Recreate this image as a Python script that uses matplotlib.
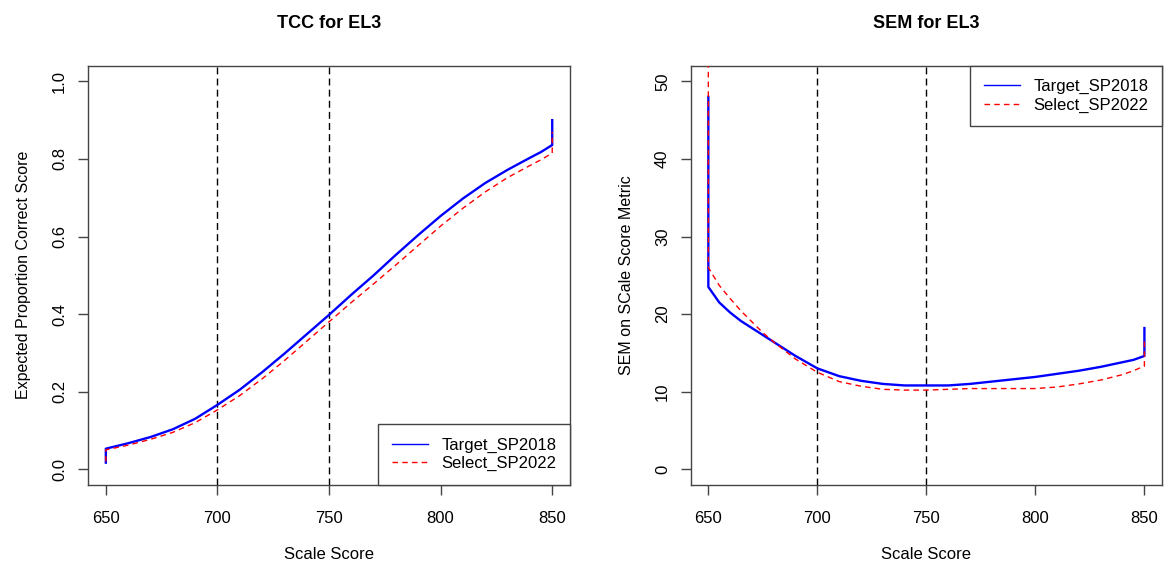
import matplotlib.pyplot as plt

plt.rcParams['font.family'] = ['Liberation Sans', 'DejaVu Sans']

# TCC curves (scale score vs expected proportion correct)
tcc_x = [650, 650, 660, 670, 680, 690, 700, 710, 720, 730, 740, 750, 760,
         770, 780, 790, 800, 810, 820, 830, 840, 845, 850, 850]
tcc_target = [0.017, 0.053, 0.067, 0.083, 0.103, 0.130, 0.166, 0.205, 0.250,
              0.298, 0.348, 0.398, 0.450, 0.500, 0.553, 0.604, 0.653, 0.698,
              0.738, 0.772, 0.803, 0.818, 0.836, 0.900]
tcc_select = [0.020, 0.050, 0.062, 0.077, 0.095, 0.120, 0.153, 0.190, 0.233,
              0.280, 0.330, 0.380, 0.430, 0.478, 0.527, 0.577, 0.627, 0.673,
              0.715, 0.752, 0.783, 0.798, 0.815, 0.870]

# SEM curves
sem_x = [650, 650, 655, 660, 665, 670, 675, 680, 690, 700, 710, 720, 730,
         740, 750, 760, 770, 780, 790, 800, 810, 820, 830, 840, 845, 850, 850]
sem_target = [48.0, 23.5, 21.5, 20.2, 19.1, 18.2, 17.3, 16.4, 14.6, 13.0,
              12.0, 11.4, 11.0, 10.8, 10.8, 10.8, 11.0, 11.3, 11.6, 11.9,
              12.3, 12.7, 13.2, 13.8, 14.1, 14.6, 18.2]
sem_select = [60.0, 26.0, 23.7, 22.0, 20.4, 19.0, 17.6, 16.4, 14.2, 12.5,
              11.3, 10.7, 10.3, 10.2, 10.2, 10.3, 10.4, 10.4, 10.4, 10.4,
              10.6, 11.0, 11.5, 12.2, 12.7, 13.3, 17.0]

cut_scores = [700, 750]
xticks = [650, 700, 750, 800, 850]

fig = plt.figure(figsize=(11.73, 5.63), dpi=100)
ax1 = fig.add_axes([0.075, 0.139, 0.411, 0.744])
ax2 = fig.add_axes([0.589, 0.139, 0.4015, 0.744])

def style(ax, ylim, yticks, ylabels):
    ax.set_xlim(642, 858)
    ax.set_ylim(ylim)
    ax.set_xticks(xticks)
    ax.set_yticks(yticks)
    ax.set_yticklabels(ylabels, rotation=90, va='center')
    ax.tick_params(direction='out', length=7, width=1, labelsize=12,
                   color='#444444', pad=12)
    ax.tick_params(axis='y', pad=8)
    for s in ax.spines.values():
        s.set_color('#444444')
        s.set_linewidth(1)
    for c in cut_scores:
        ax.axvline(c, color='black', lw=1, ls=(0, (5, 3)), zorder=1)
    ax.set_xlabel('Scale Score', fontsize=12, labelpad=15)

ax1.plot(tcc_x, tcc_target, color='blue', lw=1.7, label='Target_SP2018', zorder=3)
ax1.plot(tcc_x, tcc_select, color='red', lw=1, ls=(0, (4, 3)), label='Select_SP2022', zorder=4)
style(ax1, (-0.04, 1.04), [0, 0.2, 0.4, 0.6, 0.8, 1.0],
      ['0.0', '0.2', '0.4', '0.6', '0.8', '1.0'])
ax1.set_ylabel('Expected Proportion Correct Score', fontsize=11.5, labelpad=15)
ax1.set_title('TCC for EL3', fontsize=13, fontweight='bold', pad=27)

ax2.plot(sem_x, sem_target, color='blue', lw=1.7, label='Target_SP2018', zorder=3)
ax2.plot(sem_x, sem_select, color='red', lw=1, ls=(0, (4, 3)), label='Select_SP2022', zorder=4)
style(ax2, (-2, 52), [0, 10, 20, 30, 40, 50],
      ['0', '10', '20', '30', '40', '50'])
ax2.set_ylabel('SEM on SCale Score Metric', fontsize=11.5, labelpad=15)
ax2.set_title('SEM for EL3', fontsize=13, fontweight='bold', pad=27)

for ax, loc in [(ax1, 'lower right'), (ax2, 'upper right')]:
    h, l = ax.get_legend_handles_labels()
    h[0] = plt.Line2D([], [], color='blue', lw=1)
    leg = ax.legend(h, l, loc=loc, fontsize=12, frameon=True, fancybox=False,
                    edgecolor='#444444', framealpha=1, borderaxespad=0,
                    handlelength=2.2, borderpad=0.8, labelspacing=0.2)
    leg.get_frame().set_linewidth(1)

fig.savefig('out.png')
